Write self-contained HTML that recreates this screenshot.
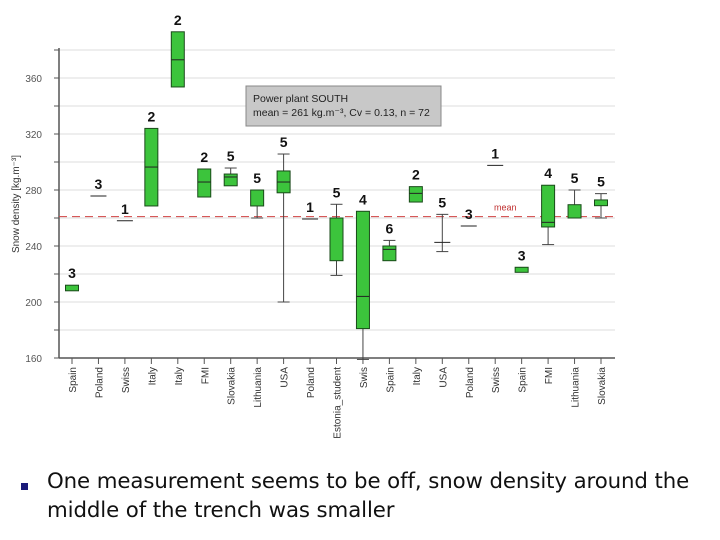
<!DOCTYPE html>
<html><head><meta charset="utf-8"><style>
body{margin:0;background:#fff;width:720px;height:540px;overflow:hidden;font-family:"Liberation Sans",Arial,sans-serif}
svg{position:absolute;left:0;top:0}
.bul{position:absolute;left:21px;top:483px;width:7px;height:7px;background:#1a1a7a}
.txt{position:absolute;left:47px;top:467px;font-family:"DejaVu Sans",sans-serif;font-size:21.3px;line-height:29px;color:#111;width:665px;letter-spacing:-0.1px}
</style></head><body>
<svg id="chart" width="720" height="540" xmlns="http://www.w3.org/2000/svg"></svg>
<div class="bul"></div>
<div class="txt">One measurement seems to be off, snow density around the middle of the trench was smaller</div>
<script>
const categories=["Spain","Poland","Swiss","Italy","Italy","FMI","Slovakia","Lithuania","USA","Poland","Estonia_student","Swis","Spain","Italy","USA","Poland","Swiss","Spain","FMI","Lithuania","Slovakia"];
const counts=[3,3,1,2,2,2,5,5,5,1,5,4,6,2,5,3,1,3,4,5,5];
const whiskLow=[null,null,null,null,null,null,null,260,200,null,219,159,null,null,236,null,null,null,241,null,260];
const q1=[208,275.7,258,268.6,353.6,275,283,268.6,278,259.3,229.5,181,229.5,271.4,242.6,254.3,297.6,221.2,253.6,260,268.8];
const median=[null,275.7,258,296.4,373,285.7,289.3,null,285.7,259.3,null,204,237.6,277.6,242.6,254.3,297.6,null,256.9,null,null];
const q3=[212,275.7,258,324,393,295,291.4,280,293.6,259.3,260,264.8,240,282.4,242.6,254.3,297.6,224.8,283.4,269.5,272.9];
const whiskHigh=[null,null,null,null,null,null,295.7,null,305.7,null,269.8,null,244,null,262.6,null,null,null,null,280,277.4];
const yTicks=[160,200,240,280,320,360];
const meanValue=261;
const NS="http://www.w3.org/2000/svg";
const svg=document.getElementById('chart');
const L=59,R=615,T=48,B=358;
const y=v=>B-(v-160)*1.4;
const x=i=>72+26.45*i;
function el(t,a,p){const e=document.createElementNS(NS,t);for(const k in a)e.setAttribute(k,a[k]);(p||svg).appendChild(e);return e;}
for(let v=180;v<=380;v+=20){const g=el('line',{x1:L,x2:R,y1:y(v),y2:y(v),stroke:'#ddd','stroke-width':1});

}
yTicks.forEach(v=>{const t=el('text',{x:42,y:y(v)+4,'text-anchor':'end','font-size':10,fill:'#555'});t.textContent=v;

});
for(let v=160;v<=380;v+=20){el('line',{x1:L-5,x2:L,y1:y(v),y2:y(v),stroke:'#555'});}
const ya=el('line',{x1:L,x2:L,y1:T,y2:B,stroke:'#555','stroke-width':1.5});


const xa=el('line',{x1:L,x2:R,y1:B,y2:B,stroke:'#555','stroke-width':1.5});


const yt=el('text',{x:0,y:0,transform:'translate(19,204) rotate(-90)','text-anchor':'middle','font-size':10,fill:'#333'});
yt.textContent='Snow density [kg.m⁻³]';


const ml=el('line',{x1:L,x2:R,y1:y(meanValue),y2:y(meanValue),stroke:'#d04040','stroke-width':1,'stroke-dasharray':'8,5'});


const mt=el('text',{x:494,y:y(meanValue)-6,'font-size':9,fill:'#c03030'});mt.textContent='mean';


const W=13;
categories.forEach((c,i)=>{
 const cx=x(i);
 el('line',{x1:cx,x2:cx,y1:B,y2:B+6,stroke:'#555'});
 const lab=el('text',{x:0,y:0,transform:`translate(${cx+4},${B+9}) rotate(-90)`,'text-anchor':'end','font-size':10,fill:'#333'});
 lab.textContent=c;
 
 
 const g=el('g',{});
 
 
 const hi=whiskHigh[i]!=null?whiskHigh[i]:q3[i];
 if(whiskHigh[i]!=null){el('line',{x1:cx,x2:cx,y1:y(whiskHigh[i]),y2:y(q3[i]),stroke:'#444'},g);el('line',{x1:cx-6,x2:cx+6,y1:y(whiskHigh[i]),y2:y(whiskHigh[i]),stroke:'#444'},g);}
 if(whiskLow[i]!=null){el('line',{x1:cx,x2:cx,y1:y(whiskLow[i]),y2:y(q1[i]),stroke:'#444'},g);el('line',{x1:cx-6,x2:cx+6,y1:y(whiskLow[i]),y2:y(whiskLow[i]),stroke:'#444'},g);}
 const h=y(q1[i])-y(q3[i]);
 if(h>1){el('rect',{x:cx-W/2,y:y(q3[i]),width:W,height:h,fill:'#3cc43c',stroke:'#1a4a1a','stroke-width':1},g);}
 if(median[i]!=null){const w=h>1?W/2:8;el('line',{x1:cx-w,x2:cx+w,y1:y(median[i]),y2:y(median[i]),stroke:'#222'},g);}
 const t=el('text',{x:cx,y:y(hi)-7,'text-anchor':'middle','font-size':14,'font-weight':'bold',fill:'#111'});
 t.textContent=counts[i];
 
 
});
const lg=el('g',{});


el('rect',{x:246,y:86,width:195,height:40,fill:'#c8c8c8',stroke:'#888'},lg);
const l1=el('text',{x:253,y:102,'font-size':10.5,fill:'#222'},lg);l1.textContent='Power plant SOUTH';
const l2=el('text',{x:253,y:116,'font-size':10.5,fill:'#222'},lg);l2.textContent='mean = 261 kg.m⁻³, Cv = 0.13, n = 72';
</script>
</body></html>
